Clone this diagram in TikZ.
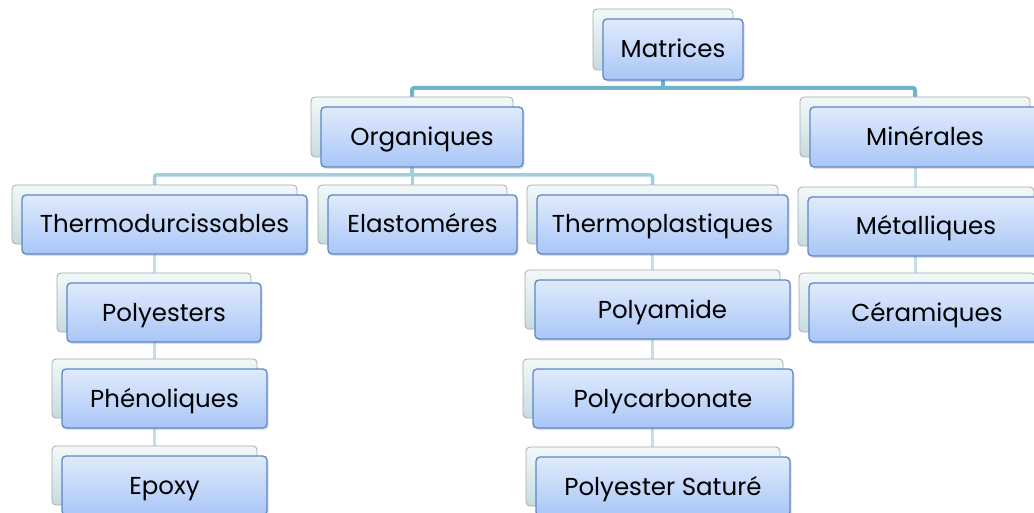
\documentclass[tikz,border=0pt]{standalone}
\usepackage{fontspec}
\setmainfont{Poppins}
\usetikzlibrary{shadows,backgrounds}

\definecolor{frontTop}{HTML}{E0EBFC}
\definecolor{frontBot}{HTML}{A9C6F7}
\definecolor{frontEdge}{HTML}{5B87C7}
\definecolor{backTop}{HTML}{F3F8F9}
\definecolor{backBot}{HTML}{C6DCE0}
\definecolor{backEdge}{HTML}{A3AAAB}
\definecolor{barOne}{HTML}{6DB3C9}
\definecolor{barTwo}{HTML}{A3CFDD}
\definecolor{barThree}{HTML}{C3DFE8}

\tikzset{
  frontbox/.style={draw=frontEdge, line width=1.3pt, rounded corners=4pt,
    top color=frontTop, bottom color=frontBot, inner sep=0pt,
    font=\fontsize{24.5}{28}\selectfont, text=black,
    text height=17pt, text depth=0pt,
    drop shadow={shadow xshift=1.5pt, shadow yshift=-2pt, opacity=0.25}},
  backbox/.style={draw=backEdge, line width=0.8pt, rounded corners=4pt,
    top color=backTop, bottom color=backBot, inner sep=0pt},
  linkone/.style={draw=barOne, line width=4pt, rounded corners=2pt},
  linktwo/.style={draw=barTwo, line width=3.5pt, rounded corners=2pt},
  linkthree/.style={draw=barThree, line width=3pt},
}

% stacked pair of boxes: name, centre x, centre y, width, height, label
\newcommand\stackbox[6]{%
  \node[backbox, minimum width=#4pt, minimum height=#5pt] (#1-b) at (#2-10,#3-10) {};
  \node[frontbox, minimum width=#4pt, minimum height=#5pt] (#1) at (#2,#3) {#6};
}

\begin{document}
\begin{tikzpicture}[x=1pt,y=-1pt]
  \useasboundingbox (0,0) rectangle (1034,513);
  \clip (0,0) rectangle (1034,513);

  \stackbox{mat}{673}{49.5}{140}{61}{Matrices}
  \stackbox{org}{422}{137}{202}{60}{Organiques}
  \stackbox{min}{925}{137}{230}{60}{Minérales}
  \stackbox{met}{926}{226.5}{236}{59}{Métalliques}
  \stackbox{cer}{927}{312.5}{236}{59}{Céramiques}
  \stackbox{tdu}{164.5}{224.5}{285}{59}{Thermodurcissables}
  \stackbox{ela}{422.5}{224.5}{189}{59}{Elastoméres}
  \stackbox{tpl}{662.5}{224.5}{251}{59}{Thermoplastiques}
  \stackbox{pes}{164}{312.5}{194}{59}{Polyesters}
  \stackbox{phe}{164.5}{398.5}{205}{59}{Phénoliques}
  \stackbox{epo}{164.5}{485.5}{205}{59}{Epoxy}
  \stackbox{pam}{662.5}{309.5}{255}{59}{Polyamide}
  \stackbox{pca}{663}{398.5}{260}{59}{Polycarbonate}
  \stackbox{pss}{663}{486.5}{254}{59}{Polyester Saturé}

  \coordinate (busone) at (0,88);
  \coordinate (bustwo) at (0,175);

  \begin{scope}[on background layer]
    % first level
    \draw[linkone] (mat-b.center) -- (mat-b.center |- busone);
    \draw[linkone] (org-b.center) -- (org-b.center |- busone)
      -- (min-b.center |- busone) -- (min-b.center);
    % second level
    \draw[linktwo] (org-b.center) -- (org-b.center |- bustwo);
    \draw[linktwo] (tdu-b.center) -- (tdu-b.center |- bustwo)
      -- (tpl-b.center |- bustwo) -- (tpl-b.center);
    \draw[linktwo] (ela-b.center) -- (ela-b.center |- bustwo);
    % columns
    \draw[linkthree] (min-b.center) -- (min-b.center |- cer-b.center);
    \draw[linkthree] (tdu-b.center) -- (tdu-b.center |- epo-b.center);
    \draw[linkthree] (tpl-b.center) -- (tpl-b.center |- pss-b.center);
  \end{scope}
\end{tikzpicture}
\end{document}
